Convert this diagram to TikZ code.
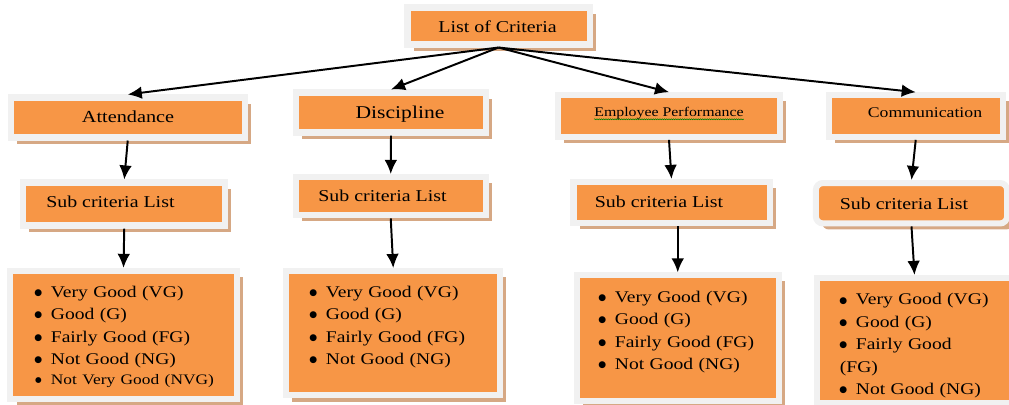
\documentclass[tikz,border=0pt]{standalone}
\usepackage{fontspec}
\setmainfont{Liberation Serif}[FakeStretch=1.2]
\newfontfamily\bulletfont{DejaVu Sans}
\usetikzlibrary{arrows.meta,shadows,decorations.pathmorphing}
\definecolor{critorange}{RGB}{247,150,70}
\definecolor{ringgrey}{RGB}{241,241,241}
\definecolor{shadowtan}{RGB}{214,168,132}
\tikzset{
	critbox/.style={fill=critorange, draw=ringgrey, line width=4.3pt, inner sep=0pt,
		drop shadow={shadow xshift=4.3pt, shadow yshift=-4.3pt, fill=shadowtan, opacity=1}},
	critlbl/.style={inner sep=0pt, anchor=base},
	critlist/.style={inner sep=0pt, anchor=base west, align=left, text width=5cm,
		font=\fontsize{11.6}{15.9}\selectfont},
	link/.style={->, line width=1.4pt},
}
\newcommand{\critem}[2][6.4]{\makebox[4.9pt]{\raisebox{1.4pt}{\bulletfont\fontsize{#1}{#1}\selectfont ●}}\hspace{6.5pt}#2}

\begin{document}
\begin{tikzpicture}[x=0.025cm, y=-0.025cm, >={Latex[length=10pt,width=9pt]}]
	\useasboundingbox (0,0) rectangle (1009,405);
	%\draw [help lines, step=50] (0,0) grid (1009,405);
	% top of the tree
	\node [critbox, minimum width=4.55cm, minimum height=0.925cm] (top) at (498.5,26) {};
	\node [critlbl, font=\fontsize{11.8}{14}\selectfont] (topl) at (497.5,32.3) {List of Criteria};
	% criteria
	\node [critbox, minimum width=5.84cm, minimum height=1cm] (att) at (127.75,117.5) {};
	\node [critbox, minimum width=4.75cm, minimum height=1cm] (disc) at (391,112.5) {};
	\node [critbox, minimum width=5.54cm, minimum height=1.04cm] (emp) at (669,116) {};
	\node [critbox, minimum width=4.36cm, minimum height=1.04cm] (comm) at (915.75,116) {};
	\node [critlbl, font=\fontsize{12}{14}\selectfont] (attl) at (128,122.7) {Attendance};
	\node [critlbl, font=\fontsize{12.8}{15}\selectfont] (discl) at (400,118.3) {Discipline};
	\node [critlbl, font=\fontsize{9.4}{11}\selectfont] (empl) at (669,117) {Employee Performance};
	\node [critlbl, font=\fontsize{10.5}{12}\selectfont] (comml) at (925,117.5) {Communication};
	\draw [green!50!black, line width=0.4pt, decorate, decoration={snake, amplitude=0.35pt, segment length=1.6pt}]
		([yshift=-1.6pt]empl.base west) -- ([yshift=-1.6pt]empl.base east);
	% sub criteria
	\node [critbox, minimum width=5.04cm, minimum height=1.075cm] (sub1) at (124.25,204) {};
	\node [critbox, minimum width=4.74cm, minimum height=0.96cm] (sub2) at (390.75,196.25) {};
	\node [critbox, minimum width=4.9cm, minimum height=1.025cm] (sub3) at (671.5,202.5) {};
	\node [critbox, rounded corners=5pt, minimum width=4.78cm, minimum height=1.01cm] (sub4) at (911.5,203.25) {};
	\node [critlbl, font=\fontsize{11.8}{14}\selectfont] (sub1l) at (110.4,207.7) {Sub criteria List};
	\node [critlbl, font=\fontsize{11.8}{14}\selectfont] (sub2l) at (382.5,201.7) {Sub criteria List};
	\node [critlbl, font=\fontsize{11.8}{14}\selectfont] (sub3l) at (659,207.7) {Sub criteria List};
	\node [critlbl, font=\fontsize{11.8}{14}\selectfont] (sub4l) at (904,209.3) {Sub criteria List};
	% grade lists
	\node [critbox, minimum width=5.65cm, minimum height=3.19cm] (list1) at (123.5,334.75) {};
	\node [critbox, minimum width=5.34cm, minimum height=3.11cm] (list2) at (393.25,333.25) {};
	\node [critbox, minimum width=5.06cm, minimum height=3.14cm] (list3) at (677.75,338.25) {};
	\node [critbox, minimum width=4.88cm, minimum height=3.125cm] (list4) at (914.5,340.5) {};
	\node [critlist] (list1t) at (34.6,297.5) {\critem{Very Good (VG)}\\ \critem{Good (G)}\\
		\critem{Fairly Good (FG)}\\ \critem{Not Good (NG)}\\[-1.6pt]
		{\fontsize{10.3}{14}\selectfont\critem[5.4]{Not Very Good (NVG)}}};
	\node [critlist] (list2t) at (309.6,297.5) {\critem{Very Good (VG)}\\ \critem{Good (G)}\\
		\critem{Fairly Good (FG)}\\ \critem{Not Good (NG)}};
	\node [critlist] (list3t) at (598.6,302.3) {\critem{Very Good (VG)}\\ \critem{Good (G)}\\
		\critem{Fairly Good (FG)}\\ \critem{Not Good (NG)}};
	\node [critlist] (list4t) at (839.6,305) {\critem{Very Good (VG)}\\ \critem{Good (G)}\\
		\critem{Fairly Good}\\(FG)\\ \critem{Not Good (NG)}};
	% arrows
	\draw [link] (top.south) -- (att.north);
	\draw [link] (top.south) -- (disc.north);
	\draw [link] (top.south) -- (emp.north);
	\draw [link] (top.south) -- (comm.north);
	\draw [link] (att.south) -- (sub1.north);
	\draw [link] (disc.south) -- (sub2.north);
	\draw [link] (emp.south) -- (sub3.north);
	\draw [link] (comm.south) -- (sub4.north);
	\draw [link] (sub1.south) -- (list1.north);
	\draw [link] (sub2.south) -- (list2.north);
	\draw [link] (sub3.south -| list3.north) -- (list3.north);
	\draw [link] (sub4.south) -- (list4.north);
\end{tikzpicture}
\end{document}
